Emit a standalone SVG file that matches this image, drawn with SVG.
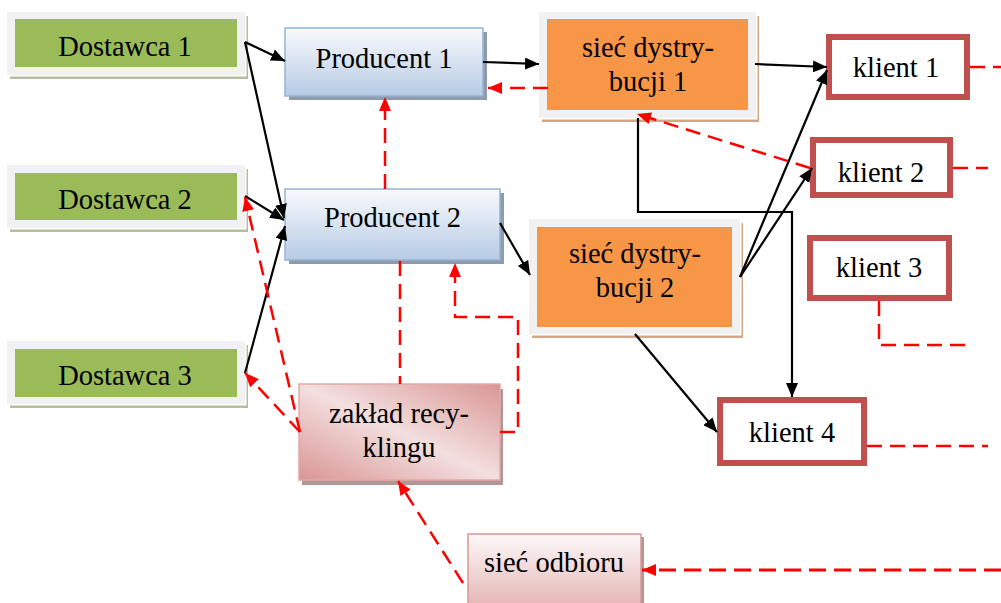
<svg xmlns="http://www.w3.org/2000/svg" width="1001" height="603" viewBox="0 0 1001 603">
  <style>
    text { font-family: "Liberation Serif", "Times New Roman", serif; font-size: 28.5px; fill: #000; text-anchor: middle; }
    .frame { fill: #f1f1f1; }
    .gap { fill: #ffffff; }
    .shG { fill: #b4bc9e; }
    .shO { fill: #d2a788; }
    .green { fill: #9bbb59; }
    .orange { fill: #f79646; }
    .prod { fill: url(#gProd); stroke: #95b3d7; stroke-width: 1.5; }
    .shP { fill: #8f9bab; }
    .klient { fill: #ffffff; stroke: #c0504d; stroke-width: 6; }
    .rec { fill: url(#gRec); stroke: #e2a9a7; stroke-width: 1.5; }
    .odb { fill: url(#gOdb); stroke: #d99694; stroke-width: 1.5; }
    .shR { fill: #b49595; }
    .blk { fill: none; stroke: #000; stroke-width: 2.2; marker-end: url(#ab); }
    .red { fill: none; stroke: #ff0000; stroke-width: 2.5; stroke-dasharray: 15 8; }
    .redA { fill: none; stroke: #ff0000; stroke-width: 2.5; stroke-dasharray: 15 8; marker-end: url(#ar); }
    .redW { fill: none; stroke: #ff0000; stroke-width: 3; stroke-dasharray: 17 8; marker-end: url(#ar); }
  </style>
  <defs>
    <linearGradient id="gProd" x1="0" y1="0" x2="0" y2="1">
      <stop offset="0" stop-color="#f8fafd"/>
      <stop offset="1" stop-color="#b7cbe4"/>
    </linearGradient>
    <linearGradient id="gRec" x1="1" y1="0" x2="0" y2="1">
      <stop offset="0" stop-color="#d99694"/>
      <stop offset="0.5" stop-color="#f3dfdf"/>
      <stop offset="1" stop-color="#d99694"/>
    </linearGradient>
    <linearGradient id="gOdb" x1="0" y1="0" x2="0" y2="1">
      <stop offset="0" stop-color="#fdf9f9"/>
      <stop offset="1" stop-color="#e5b8b7"/>
    </linearGradient>
    <marker id="ab" viewBox="0 0 14 12" refX="14" refY="6" markerWidth="14" markerHeight="12" markerUnits="userSpaceOnUse" orient="auto">
      <path d="M0,0 L14,6 L0,12 z" fill="#000"/>
    </marker>
    <marker id="ar" viewBox="0 0 14 12" refX="14" refY="6" markerWidth="14" markerHeight="12" markerUnits="userSpaceOnUse" orient="auto">
      <path d="M0,0 L14,6 L0,12 z" fill="#ff0000"/>
    </marker>
  </defs>

  <!-- suppliers -->
  <g id="dostawca1">
    <rect class="shG" x="10" y="16" width="238" height="63"/>
    <rect class="gap" x="8.5" y="13.5" width="238" height="63"/>
    <rect class="frame" x="7" y="12" width="238" height="63"/>
    <rect class="green" x="15" y="19" width="222" height="48"/>
    <text x="125" y="56">Dostawca 1</text>
  </g>
  <g id="dostawca2">
    <rect class="shG" x="10" y="169" width="238" height="63"/>
    <rect class="gap" x="8.5" y="166.5" width="238" height="63"/>
    <rect class="frame" x="7" y="165" width="238" height="63"/>
    <rect class="green" x="15" y="173" width="222" height="47"/>
    <text x="125" y="209">Dostawca 2</text>
  </g>
  <g id="dostawca3">
    <rect class="shG" x="10" y="345" width="238" height="63"/>
    <rect class="gap" x="8.5" y="342.5" width="238" height="63"/>
    <rect class="frame" x="7" y="341" width="238" height="63"/>
    <rect class="green" x="15" y="349" width="222" height="48"/>
    <text x="125" y="385">Dostawca 3</text>
  </g>

  <!-- producers -->
  <g id="producent1">
    <rect class="shP" x="289" y="32" width="198" height="68"/>
    <rect class="prod" x="285" y="28" width="198" height="68"/>
    <text x="384" y="68">Producent 1</text>
  </g>
  <g id="producent2">
    <rect class="shP" x="289" y="193" width="215" height="71"/>
    <rect class="prod" x="285" y="189" width="215" height="71"/>
    <text x="392.5" y="227">Producent 2</text>
  </g>

  <!-- distribution networks -->
  <g id="siec1">
    <rect class="shO" x="542" y="16" width="217" height="106"/>
    <rect class="gap" x="540.5" y="13.5" width="217" height="106"/>
    <rect class="frame" x="539" y="12" width="217" height="106"/>
    <rect class="orange" x="547" y="19" width="201" height="91"/>
    <text x="648" y="57">sieć dystry-</text>
    <text x="648" y="91">bucji 1</text>
  </g>
  <g id="siec2">
    <rect class="shO" x="532" y="223" width="211" height="115"/>
    <rect class="gap" x="530.5" y="220.5" width="211" height="115"/>
    <rect class="frame" x="529" y="219" width="211" height="115"/>
    <rect class="orange" x="537" y="227" width="195" height="100"/>
    <text x="635" y="263">sieć dystry-</text>
    <text x="635" y="297">bucji 2</text>
  </g>

  <!-- customers -->
  <g id="klient1">
    <rect class="klient" x="829" y="37" width="138" height="60"/>
    <text x="896" y="77">klient 1</text>
  </g>
  <g id="klient2">
    <rect class="klient" x="813" y="140" width="137" height="55"/>
    <text x="881" y="182">klient 2</text>
  </g>
  <g id="klient3">
    <rect class="klient" x="810" y="238" width="139" height="60"/>
    <text x="879" y="277">klient 3</text>
  </g>
  <g id="klient4">
    <rect class="klient" x="720" y="400" width="144" height="63"/>
    <text x="792" y="442">klient 4</text>
  </g>

  <!-- recycling plant -->
  <g id="recykling">
    <rect class="shR" x="302" y="389" width="201" height="96"/>
    <rect class="rec" x="299" y="384" width="201" height="96"/>
    <text x="399" y="423">zakład recy-</text>
    <text x="399" y="457">klingu</text>
  </g>

  <!-- collection network -->
  <g id="odbior">
    <rect class="shR" x="471" y="537" width="173" height="70"/>
    <rect class="odb" x="468" y="534" width="173" height="70"/>
    <text x="554" y="572">sieć odbioru</text>
  </g>

  <!-- connectors -->
  <g id="connectors">
    <!-- product flow -->
    <path class="blk" d="M245,42 L285,61"/>
    <path class="blk" d="M245,42 L284,218"/>
    <path class="blk" d="M245,196 L284,220"/>
    <path class="blk" d="M245,373 L285,226"/>
    <path class="blk" d="M483,62 L539,64"/>
    <path class="blk" d="M500,223 L530,275"/>
    <path class="blk" d="M755,64 L827,67"/>
    <path class="blk" d="M740,277 L827,70"/>
    <path class="blk" d="M740,277 L812,168"/>
    <path class="blk" d="M638,118 L638,212 L792,212 L792,397"/>
    <path class="blk" d="M635,334 L717,432"/>

    <!-- return flow -->
    <path class="redA" d="M548,88 L488,88"/>
    <path class="redA" d="M385,189 L385,97"/>
    <path class="redA" d="M810,168 L637,114"/>
    <path class="red" d="M400,261 L400,384"/>
    <path class="redA" d="M500,432 L518,432 L518,317 L455,317 L455,263"/>
    <path class="redA" d="M300,432 L245,197"/>
    <path class="redA" d="M300,432 L245,373"/>
    <path class="redA" d="M463,583 L398,481"/>
    <path class="redW" d="M1001,570 L642,570"/>
    <path class="red" d="M970,67 L1001,67"/>
    <path class="red" d="M953,168 L988,168"/>
    <path class="red" d="M879,301 L879,345 L970,345"/>
    <path class="red" d="M867,446 L988,446"/>
  </g>
</svg>
